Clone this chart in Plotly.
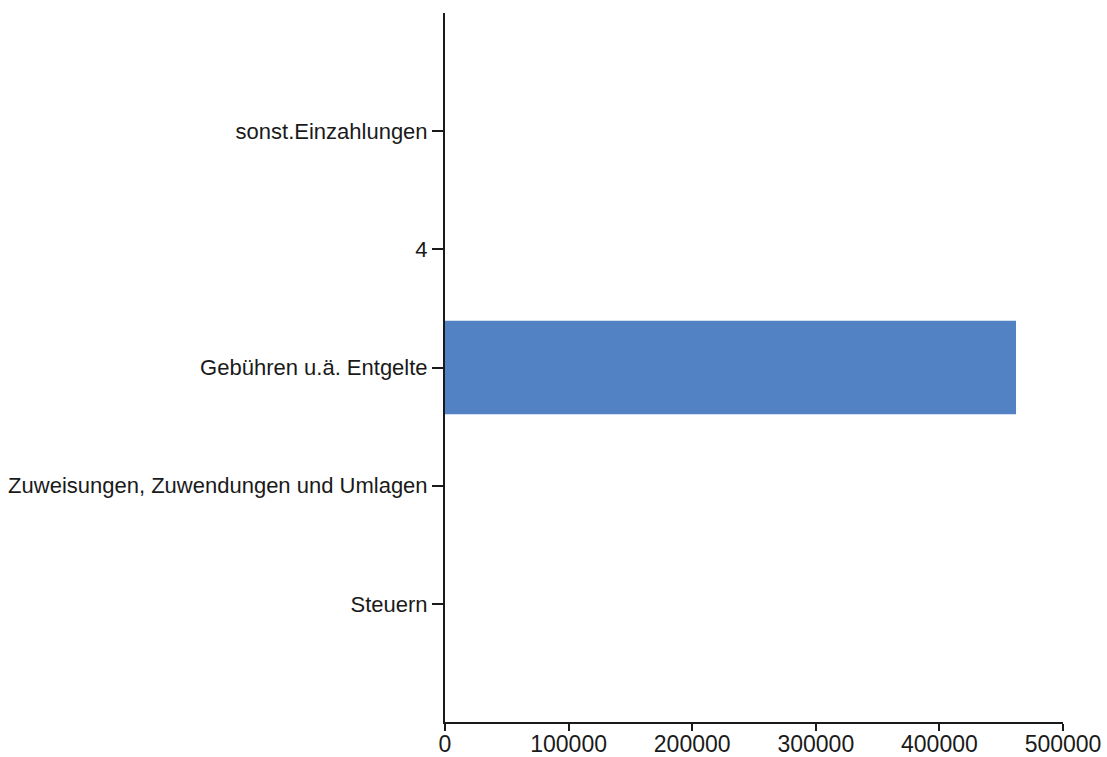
import plotly.graph_objects as go

# Einzahlungsarten (unten nach oben) und Beträge
categories = ["Steuern", "Zuweisungen, Zuwendungen und Umlagen",
              "Gebühren u.ä. Entgelte", "4", "sonst.Einzahlungen"]
values = [0, 0, 462000, 0, 0]
x_ticks = [0, 100000, 200000, 300000, 400000, 500000]
x_tick_text = ["0", "100000", "200000", "300000", "400000", "500000"]

fig = go.Figure(go.Bar(
    x=values,
    y=categories,
    orientation="h",
    width=0.79,
    marker=dict(color="#5282C3", line=dict(width=0)),
))

axis_font = dict(family="Liberation Sans, Arial, sans-serif", color="#1a1a1a")

fig.update_layout(
    width=1107,
    height=757,
    margin=dict(l=445, r=44, t=13, b=35),
    paper_bgcolor="white",
    plot_bgcolor="white",
    showlegend=False,
    xaxis=dict(
        range=[0, 500000],
        tickvals=x_ticks,
        ticktext=x_tick_text,
        ticks="outside",
        ticklen=7,
        tickwidth=2,
        tickcolor="#1a1a1a",
        ticklabelstandoff=-7,
        showline=True,
        linecolor="#1a1a1a",
        linewidth=2,
        showgrid=False,
        zeroline=False,
        automargin=False,
        tickfont=dict(size=23, **axis_font),
    ),
    yaxis=dict(
        type="category",
        categoryorder="array",
        categoryarray=categories,
        range=[-1, 5],
        ticks="outside",
        ticklen=11,
        tickwidth=2,
        tickcolor="#1a1a1a",
        showline=True,
        linecolor="#1a1a1a",
        linewidth=2,
        showgrid=False,
        zeroline=False,
        automargin=False,
        tickfont=dict(size=22, **axis_font),
    ),
)

fig.write_html("out.html")
